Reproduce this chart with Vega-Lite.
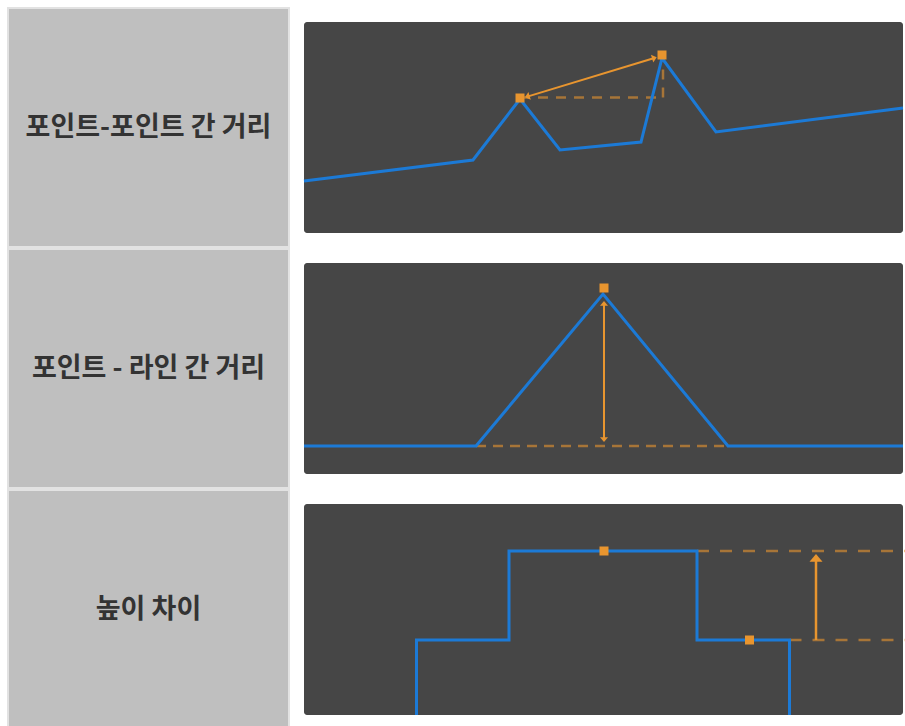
{
  "$schema": "https://vega.github.io/schema/vega-lite/v6.json",
  "padding": {"left": 7, "top": 7, "right": 0, "bottom": 0},
  "background": "white",
  "config": {"view": {"stroke": null}},
  "datasets": {
    "labels": [
      {"row": 1, "label": "포인트-포인트 간 거리"},
      {"row": 2, "label": "포인트 - 라인 간 거리"},
      {"row": 3, "label": "높이 차이"}
    ],
    "p1_line": [
      {"i": 0, "x": 0, "y": 52}, {"i": 1, "x": 169, "y": 73}, {"i": 2, "x": 216, "y": 134},
      {"i": 3, "x": 256, "y": 83}, {"i": 4, "x": 337, "y": 91}, {"i": 5, "x": 358, "y": 175},
      {"i": 6, "x": 412, "y": 101}, {"i": 7, "x": 599, "y": 125}
    ],
    "p1_dash": [
      {"seg": "h", "i": 0, "x": 216, "y": 135.5}, {"seg": "h", "i": 1, "x": 359, "y": 135.5},
      {"seg": "v", "i": 0, "x": 359, "y": 135.5}, {"seg": "v", "i": 1, "x": 359, "y": 172}
    ],
    "p1_arrow": [
      {"i": 0, "x": 223.3, "y": 136.4}, {"i": 1, "x": 350.4, "y": 175.0}
    ],
    "p1_heads": [
      {"end": "a", "x": 223.3, "y": 136.4}, {"end": "b", "x": 350.4, "y": 175.0}
    ],
    "p1_marks": [
      {"x": 216, "y": 135}, {"x": 358, "y": 178}
    ],
    "p2_line": [
      {"i": 0, "x": 0, "y": 28}, {"i": 1, "x": 172, "y": 28}, {"i": 2, "x": 299, "y": 180},
      {"i": 3, "x": 424, "y": 28}, {"i": 4, "x": 599, "y": 28}
    ],
    "p2_dash": [
      {"seg": "h", "i": 0, "x": 172, "y": 28}, {"seg": "h", "i": 1, "x": 424, "y": 28}
    ],
    "p2_arrow": [
      {"i": 0, "x": 300, "y": 34.4}, {"i": 1, "x": 300, "y": 170.6}
    ],
    "p2_heads": [
      {"end": "a", "x": 300, "y": 170.6}, {"end": "b", "x": 300, "y": 34.4}
    ],
    "p2_marks": [
      {"x": 300, "y": 186}
    ],
    "p3_line": [
      {"i": 0, "x": 112.5, "y": 0}, {"i": 1, "x": 112.5, "y": 75}, {"i": 2, "x": 205, "y": 75},
      {"i": 3, "x": 205, "y": 164}, {"i": 4, "x": 393, "y": 164}, {"i": 5, "x": 393, "y": 75},
      {"i": 6, "x": 485.5, "y": 75}, {"i": 7, "x": 485.5, "y": 0}
    ],
    "p3_dash": [
      {"seg": "top", "i": 0, "x": 393, "y": 164}, {"seg": "top", "i": 1, "x": 601, "y": 164},
      {"seg": "bottom", "i": 0, "x": 485.5, "y": 75}, {"seg": "bottom", "i": 1, "x": 601, "y": 75}
    ],
    "p3_arrow": [
      {"i": 0, "x": 512, "y": 75}, {"i": 1, "x": 512, "y": 157}
    ],
    "p3_heads": [
      {"end": "a", "x": 512, "y": 157.1}
    ],
    "p3_marks": [
      {"x": 300, "y": 164}, {"x": 445.5, "y": 75}
    ]
  },
  "vconcat": [
    {
      "hconcat": [
        {
          "width": 281, "height": 239,
          "view": {"fill": "#bfbfbf", "stroke": "#e2e2e2", "strokeWidth": 2},
          "data": {"name": "labels"},
          "transform": [{"filter": "datum.row == 1"}],
          "mark": {"type": "text", "font": "Noto Sans CJK KR", "fontWeight": "bold", "fontSize": 27, "color": "#333333"},
          "encoding": {"text": {"field": "label"}}
        },
        {
          "width": 599, "height": 211,
          "view": {"fill": "#464646", "stroke": null, "cornerRadius": 3},
          "encoding": {
            "x": {"field": "x", "type": "quantitative", "scale": {"domain": [0, 599], "nice": false, "zero": false}, "axis": null},
            "y": {"field": "y", "type": "quantitative", "scale": {"domain": [0, 211], "nice": false, "zero": false}, "axis": null}
          },
          "layer": [
            {"data": {"name": "p1_dash"}, "mark": {"type": "line", "color": "#e8952f", "opacity": 0.6, "strokeWidth": 2.5, "strokeDash": [10, 8]},
             "encoding": {"detail": {"field": "seg", "type": "nominal"}, "order": {"field": "i", "type": "quantitative"}}},
            {"data": {"name": "p1_line"}, "mark": {"type": "line", "color": "#1c7ad6", "strokeWidth": 3},
             "encoding": {"order": {"field": "i", "type": "quantitative"}}},
            {"data": {"name": "p1_arrow"}, "mark": {"type": "line", "color": "#e8952f", "strokeWidth": 2},
             "encoding": {"order": {"field": "i", "type": "quantitative"}}},
            {"data": {"name": "p1_heads"}, "transform": [{"filter": "datum.end == 'a'"}],
             "mark": {"type": "point", "shape": "M0,-0.6L1,0.6L-1,0.6Z", "size": 64, "filled": true, "color": "#e8952f", "opacity": 1, "angle": 253.1}},
            {"data": {"name": "p1_heads"}, "transform": [{"filter": "datum.end == 'b'"}],
             "mark": {"type": "point", "shape": "M0,-0.6L1,0.6L-1,0.6Z", "size": 64, "filled": true, "color": "#e8952f", "opacity": 1, "angle": 73.1}},
            {"data": {"name": "p1_marks"}, "mark": {"type": "square", "size": 81, "color": "#e8952f", "opacity": 1}}
          ]
        }
      ],
      "spacing": 15,
      "center": true,
      "bounds": "flush"
    },
    {
      "hconcat": [
        {
          "width": 281, "height": 239,
          "view": {"fill": "#bfbfbf", "stroke": "#e2e2e2", "strokeWidth": 2},
          "data": {"name": "labels"},
          "transform": [{"filter": "datum.row == 2"}],
          "mark": {"type": "text", "font": "Noto Sans CJK KR", "fontWeight": "bold", "fontSize": 27, "color": "#333333"},
          "encoding": {"text": {"field": "label"}}
        },
        {
          "width": 599, "height": 211,
          "view": {"fill": "#464646", "stroke": null, "cornerRadius": 3},
          "encoding": {
            "x": {"field": "x", "type": "quantitative", "scale": {"domain": [0, 599], "nice": false, "zero": false}, "axis": null},
            "y": {"field": "y", "type": "quantitative", "scale": {"domain": [0, 211], "nice": false, "zero": false}, "axis": null}
          },
          "layer": [
            {"data": {"name": "p2_dash"}, "mark": {"type": "line", "color": "#e8952f", "opacity": 0.6, "strokeWidth": 2.5, "strokeDash": [10, 7]},
             "encoding": {"detail": {"field": "seg", "type": "nominal"}, "order": {"field": "i", "type": "quantitative"}}},
            {"data": {"name": "p2_line"}, "mark": {"type": "line", "color": "#1c7ad6", "strokeWidth": 3},
             "encoding": {"order": {"field": "i", "type": "quantitative"}}},
            {"data": {"name": "p2_arrow"}, "mark": {"type": "line", "color": "#e8952f", "strokeWidth": 2},
             "encoding": {"order": {"field": "i", "type": "quantitative"}}},
            {"data": {"name": "p2_heads"}, "transform": [{"filter": "datum.end == 'a'"}],
             "mark": {"type": "point", "shape": "M0,-0.6L1,0.6L-1,0.6Z", "size": 64, "filled": true, "color": "#e8952f", "opacity": 1, "angle": 0}},
            {"data": {"name": "p2_heads"}, "transform": [{"filter": "datum.end == 'b'"}],
             "mark": {"type": "point", "shape": "M0,-0.6L1,0.6L-1,0.6Z", "size": 64, "filled": true, "color": "#e8952f", "opacity": 1, "angle": 180}},
            {"data": {"name": "p2_marks"}, "mark": {"type": "square", "size": 81, "color": "#e8952f", "opacity": 1}}
          ]
        }
      ],
      "spacing": 15,
      "center": true,
      "bounds": "flush"
    },
    {
      "hconcat": [
        {
          "width": 281, "height": 239,
          "view": {"fill": "#bfbfbf", "stroke": "#e2e2e2", "strokeWidth": 2},
          "data": {"name": "labels"},
          "transform": [{"filter": "datum.row == 3"}],
          "mark": {"type": "text", "font": "Noto Sans CJK KR", "fontWeight": "bold", "fontSize": 27, "color": "#333333"},
          "encoding": {"text": {"field": "label"}}
        },
        {
          "width": 599, "height": 211,
          "view": {"fill": "#464646", "stroke": null, "cornerRadius": 3},
          "encoding": {
            "x": {"field": "x", "type": "quantitative", "scale": {"domain": [0, 599], "nice": false, "zero": false}, "axis": null},
            "y": {"field": "y", "type": "quantitative", "scale": {"domain": [0, 211], "nice": false, "zero": false}, "axis": null}
          },
          "layer": [
            {"data": {"name": "p3_dash"}, "mark": {"type": "line", "color": "#e8952f", "opacity": 0.6, "strokeWidth": 2.5, "strokeDash": [12, 11]},
             "encoding": {"detail": {"field": "seg", "type": "nominal"}, "order": {"field": "i", "type": "quantitative"}}},
            {"data": {"name": "p3_line"}, "mark": {"type": "line", "color": "#1c7ad6", "strokeWidth": 3},
             "encoding": {"order": {"field": "i", "type": "quantitative"}}},
            {"data": {"name": "p3_arrow"}, "mark": {"type": "line", "color": "#e8952f", "strokeWidth": 2.5},
             "encoding": {"order": {"field": "i", "type": "quantitative"}}},
            {"data": {"name": "p3_heads"},
             "mark": {"type": "point", "shape": "M0,-0.6L1,0.6L-1,0.6Z", "size": 169, "filled": true, "color": "#e8952f", "opacity": 1, "angle": 0}},
            {"data": {"name": "p3_marks"}, "mark": {"type": "square", "size": 81, "color": "#e8952f", "opacity": 1}}
          ]
        }
      ],
      "spacing": 15,
      "center": true,
      "bounds": "flush"
    }
  ],
  "spacing": 0
}
